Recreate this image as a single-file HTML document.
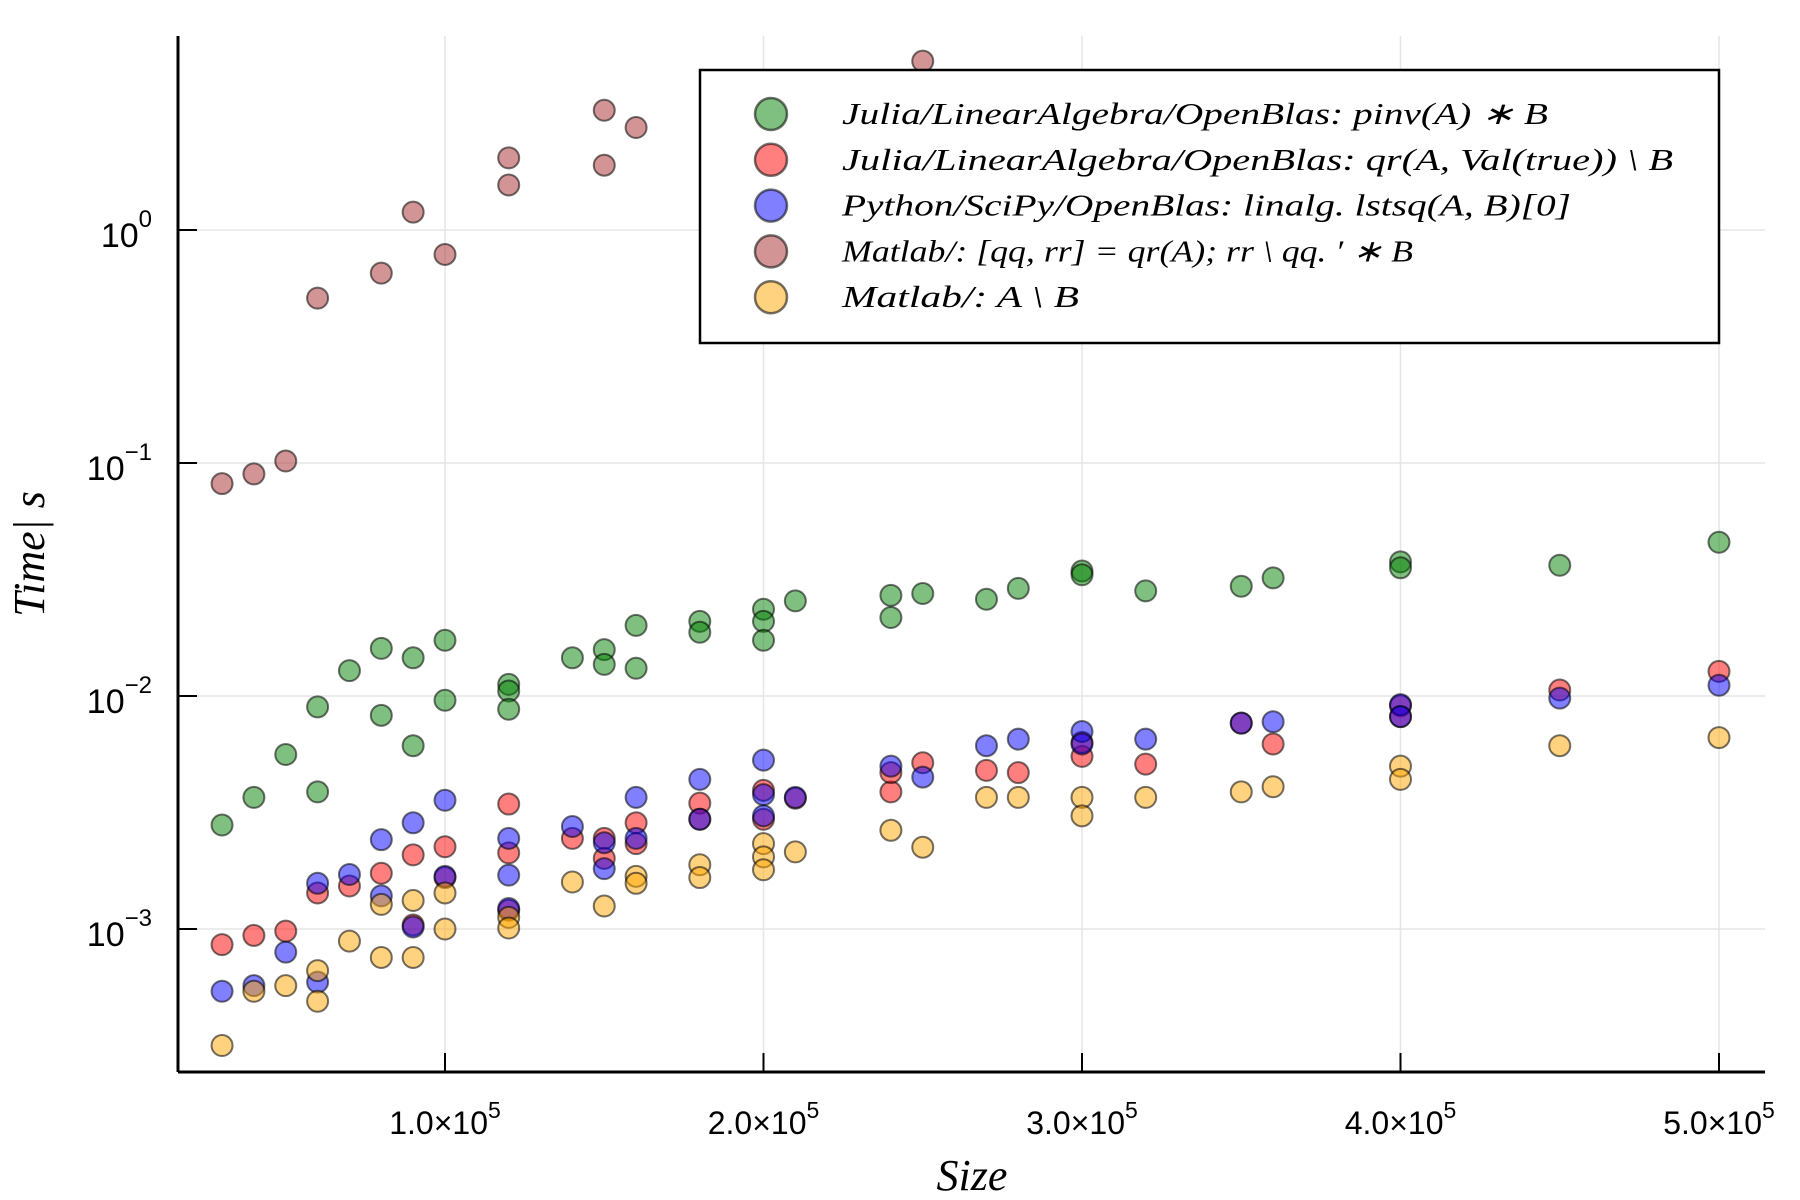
<!DOCTYPE html>
<html><head><meta charset="utf-8"><style>
html,body{margin:0;padding:0;background:#fff;}
svg{display:block;}
text{font-family:"Liberation Sans",sans-serif;}
.ser{font-family:"Liberation Serif",serif;font-style:italic;}
</style></head><body>
<svg id="chart" width="1800" height="1200" viewBox="0 0 1800 1200" xmlns="http://www.w3.org/2000/svg">
<g id="grid"></g>
<g id="axes"></g>
<g id="points"></g>
<g id="legend"></g>
</svg>
<script>
const greenX=[30,40,50,60,60,70,80,80,90,90,100,100,120,120,120,140,150,150,160,160,180,180,200,200,200,210,240,240,250,270,280,300,300,320,350,360,400,400,450,500];
const greenY=[0.00274,0.0036,0.0055,0.0088,0.0038,0.0126,0.0157,0.0081,0.0143,0.006,0.017,0.0094,0.011,0.0103,0.0086,0.0143,0.0155,0.0134,0.0197,0.0129,0.0205,0.0184,0.0231,0.0205,0.017,0.0251,0.0265,0.0213,0.027,0.0255,0.0284,0.0337,0.0325,0.0277,0.029,0.0315,0.0369,0.0348,0.0357,0.0448];
const redX=[30,40,50,60,70,80,90,90,100,100,120,120,120,140,150,150,160,160,180,180,200,200,210,240,240,250,270,280,300,300,320,350,360,400,400,450,500];
const redY=[0.00084,0.00092,0.00096,0.0014,0.0015,0.0017,0.00204,0.00102,0.00221,0.00163,0.00337,0.00208,0.00118,0.0024,0.0024,0.00197,0.0028,0.00228,0.0034,0.0029,0.00386,0.0029,0.00357,0.0038,0.0046,0.00507,0.0047,0.0046,0.0054,0.0062,0.005,0.0075,0.0061,0.0089,0.008,0.0104,0.0125];
const blueX=[30,40,50,60,60,70,80,80,90,90,100,100,120,120,120,140,150,150,160,160,180,180,200,200,200,210,240,250,270,280,300,300,320,350,360,400,400,450,500];
const blueY=[0.00053,0.00056,0.00078,0.00154,0.00058,0.00168,0.00237,0.00136,0.0028,0.001,0.0035,0.00165,0.0024,0.00167,0.0012,0.0027,0.0023,0.00178,0.0036,0.0024,0.0043,0.0029,0.0052,0.0037,0.003,0.0036,0.0049,0.0044,0.006,0.0064,0.0069,0.0061,0.0064,0.0075,0.0076,0.009,0.008,0.0096,0.0109];
const brownX=[30,40,50,60,80,90,100,120,120,150,150,160,250];
const brownY=[0.08,0.088,0.1,0.5,0.64,1.17,0.77,2.0,1.53,3.2,1.86,2.7,5.2];
const orangeX=[30,40,50,60,60,70,80,80,90,90,100,100,120,120,140,150,160,160,180,180,200,200,200,210,240,250,270,280,300,300,320,350,360,400,400,450,500];
const orangeY=[0.00031,0.00053,0.00056,0.00065,0.00048,0.00087,0.00125,0.00074,0.0013,0.00074,0.0014,0.00098,0.0011,0.00099,0.00156,0.00123,0.00165,0.00154,0.00185,0.00163,0.00228,0.002,0.00176,0.0021,0.0026,0.0022,0.0036,0.0036,0.0036,0.003,0.0036,0.0038,0.004,0.0049,0.0043,0.006,0.0065];
const xTicks=[1,2,3,4,5];
const yTicks=[0,-1,-2,-3];
const seriesNames=["Julia/LinearAlgebra/OpenBlas: pinv(A) ∗ B","Julia/LinearAlgebra/OpenBlas: qr(A, Val(true)) \\ B","Python/SciPy/OpenBlas: linalg. lstsq(A, B)[0]","Matlab/: [qq, rr] = qr(A); rr \\ qq. ′ ∗ B","Matlab/: A \\ B"];

const NS="http://www.w3.org/2000/svg";
const L=178,R=1765,T=36,B=1072;
function sx(k){return 126.5+k*3.185;}
function sy(v){return 230-Math.log10(v)*233;}
function mk(tag,attrs,parent){const e=document.createElementNS(NS,tag);for(const k in attrs)e.setAttribute(k,attrs[k]);parent.appendChild(e);return e;}
const grid=document.getElementById('grid'),axes=document.getElementById('axes'),pts=document.getElementById('points'),leg=document.getElementById('legend');

xTicks.forEach(t=>{
  const x=sx(t*100);
  const g=mk('line',{x1:x,x2:x,y1:T,y2:B,stroke:'#e6e6e6','stroke-width':1.5},grid);
  
  
  const tk=mk('line',{x1:x,x2:x,y1:B,y2:B-19,stroke:'#000','stroke-width':2},axes);
  
  
  const lb=mk('text',{x:x,y:1134,'text-anchor':'middle','font-size':32},axes);
  
  
  lb.innerHTML=t.toFixed(1)+'×10<tspan dy="-16" font-size="23">5</tspan>';
});
yTicks.forEach(t=>{
  const y=sy(Math.pow(10,t));
  const g=mk('line',{x1:L,x2:R,y1:y,y2:y,stroke:'#e6e6e6','stroke-width':1.5},grid);
  
  
  const tk=mk('line',{x1:L,x2:L+19,y1:y,y2:y,stroke:'#000','stroke-width':2},axes);
  
  
  const lb=mk('text',{x:152,y:y+17,'text-anchor':'end','font-size':34},axes);
  
  
  lb.innerHTML='10<tspan dy="-20" font-size="24">'+(t===0?'0':'−'+(-t))+'</tspan>';
});
const ax1=mk('line',{x1:L,x2:L,y1:T,y2:B,stroke:'#000','stroke-width':3},axes);


const ax2=mk('line',{x1:L,x2:R,y1:B,y2:B,stroke:'#000','stroke-width':3},axes);


const xt=mk('text',{x:972,y:1190,'text-anchor':'middle','font-size':44,class:'ser'},axes);


xt.textContent='Size';
const yt=mk('text',{x:0,y:0,'text-anchor':'middle','font-size':44,class:'ser',transform:'translate(44,554) rotate(-90)'},axes);


yt.textContent='Time| s';

const series=[[greenX,greenY,'#008000','green'],[redX,redY,'#ff0000','red'],[blueX,blueY,'#0000ff','blue'],[brownX,brownY,'#a52a2a','brown'],[orangeX,orangeY,'#ffa500','orange']];
series.forEach(s=>{
  s[0].forEach((xv,i)=>{
    const c=mk('circle',{cx:sx(xv),cy:sy(s[1][i])-2,r:10.5,fill:s[2],'fill-opacity':0.5,stroke:'#000','stroke-opacity':0.55,'stroke-width':2},pts);
    
    
  });
});

const box=mk('rect',{x:700,y:70,width:1019,height:273,fill:'#fff',stroke:'#000','stroke-width':2.5},leg);


const lens=[706,831,729,571,237];
series.forEach((s,i)=>{
  const y=114+i*45.8;
  const c=mk('circle',{cx:771,cy:y,r:16,fill:s[2],'fill-opacity':0.5,stroke:'#000','stroke-opacity':0.55,'stroke-width':2.5},leg);
  
  
  const t=mk('text',{x:842,y:y+10,'font-size':31,class:'ser',textLength:lens[i],lengthAdjust:'spacingAndGlyphs'},leg);
  
  
  t.textContent=seriesNames[i];
});
</script>
</body></html>
